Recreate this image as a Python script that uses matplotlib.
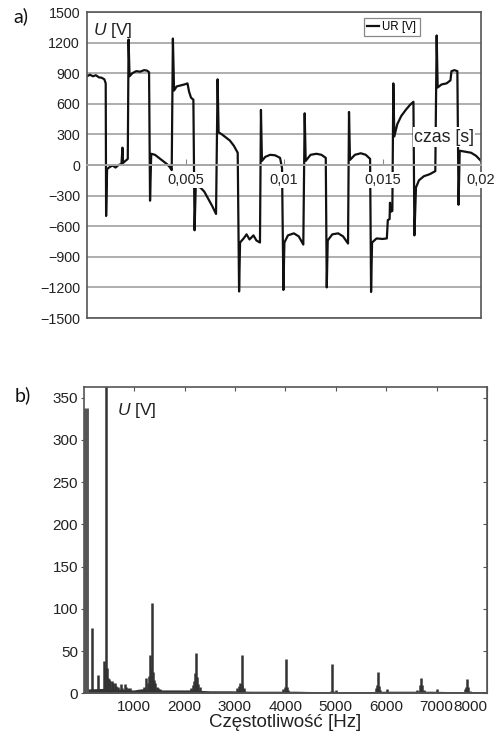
import matplotlib
matplotlib.use('Agg')
import matplotlib.pyplot as plt
import numpy as np

plt.rcParams['font.family'] = ['Liberation Sans', 'DejaVu Sans']
plt.rcParams['mathtext.fontset'] = 'custom'
plt.rcParams['mathtext.it'] = 'Liberation Sans:italic'
plt.rcParams['mathtext.rm'] = 'Liberation Sans'

# ---------------- panel a: time waveform ----------
wave_t_ms = [0.00, 0.15, 0.30, 0.45, 0.60, 0.75, 0.88, 0.95,
             0.97, 1.02, 1.15, 1.30, 1.45, 1.60, 1.75, 1.80, 1.83, 1.95, 2.07,
             2.11, 2.16, 2.30, 2.50, 2.70, 2.90, 3.05, 3.15,
             3.20, 3.26, 3.45, 3.65, 3.85, 4.05, 4.20, 4.30,
             4.36, 4.42, 4.55, 4.75, 4.95, 5.10, 5.18, 5.28, 5.40,
             5.46, 5.52, 5.75, 5.95, 6.15, 6.35, 6.55,
             6.63, 6.68, 6.85, 7.05, 7.25, 7.45, 7.65,
             7.72, 7.77, 7.95, 8.10, 8.25, 8.45, 8.60, 8.78,
             8.83, 8.88, 9.05, 9.30, 9.55, 9.80, 9.90,
             9.97, 10.02, 10.20, 10.50, 10.75, 10.98,
             11.05, 11.10, 11.35, 11.65, 11.90, 12.12,
             12.17, 12.22, 12.45, 12.75, 13.00, 13.25,
             13.30, 13.35, 13.60, 13.90, 14.15, 14.37,
             14.42, 14.47, 14.70, 15.00, 15.22, 15.27, 15.36, 15.38, 15.40, 15.50,
             15.55, 15.60, 15.75, 15.95, 16.20, 16.40, 16.57,
             16.62, 16.70, 16.85, 17.10, 17.40, 17.68,
             17.75, 17.80, 18.00, 18.25, 18.45, 18.50, 18.65, 18.80,
             18.86, 18.92, 19.20, 19.50, 19.75, 20.00]
wave_u = [870, 885, 870, 880, 860, 855, 840, 800,
          -500, -40, -20, -5, -25, 0, 10, 170, 20, 40, 60,
          1230, 870, 900, 920, 915, 930, 925, 910,
          -350, 110, 100, 70, 40, 10, -20, -50,
          1240, 730, 770, 780, 790, 800, 720, 660, 640,
          -640, -210, -220, -260, -330, -400, -480,
          840, 320, 300, 270, 240, 190, 120,
          -1240, -760, -720, -680, -730, -690, -740, -760,
          540, 40, 80, 100, 95, 70, -30,
          -1225, -760, -690, -670, -700, -780,
          507, 40, 100, 110, 100, 70,
          -1200, -740, -680, -670, -700, -770,
          520, 50, 100, 115, 100, 60,
          -1245, -760, -720, -725, -720, -540, -530, -370, -460, -450,
          800, 280, 400, 480, 545, 590, 620,
          -690, -220, -150, -110, -90, -60,
          1270, 760, 790, 800, 830, 920, 930, 920,
          -390, 140, 130, 120, 90, 40]

u_ticks = [-1500, -1200, -900, -600, -300, 0, 300, 600, 900, 1200, 1500]
u_tick_labels = ['\u22121500', '\u22121200', '\u2212900', '\u2212600', '\u2212300',
                 '0', '300', '600', '900', '1200', '1500']
t_ticks = [0.005, 0.01, 0.015, 0.02]
t_tick_labels = ['0,005', '0,01', '0,015', '0,02']

# ---------------- panel b: spectrum ---------------
fund_freq = [45]
fund_amp = [338]
spec_freq = [158, 289, 401, 441, 420, 460, 480, 500, 520, 553, 580, 619, 650, 680,
             731, 760, 816, 840, 870, 915,
             1150, 1200, 1245, 1280, 1300, 1324, 1340, 1363, 1380, 1400, 1420, 1450, 1480, 1520,
             2120, 2160, 2190, 2210, 2233, 2250, 2270, 2300,
             3040, 3080, 3110, 3134, 3150, 3180,
             3960, 3990, 4012, 4030, 4060,
             4900, 4921, 4940, 5000,
             5790, 5810, 5830, 5850, 5880, 6020,
             6620, 6670, 6700, 6720, 6760, 7000,
             7570, 7590, 7609, 7625, 7660]
spec_amp = [77, 22, 38.6, 400, 30, 30, 18, 17, 15, 14, 12, 11.8, 9, 7,
            10.6, 6, 10.6, 8, 6, 6.7,
            5, 7, 18, 12, 20, 45, 30, 106.6, 25, 16, 12, 8, 6, 5,
            6, 10, 15, 23.7, 48, 19, 11, 7,
            6, 9, 12, 45, 10, 6,
            5, 8, 40.6, 8, 4,
            3, 34.3, 3, 4,
            6, 9.8, 25, 9, 4, 5,
            4, 10, 18.5, 10, 4, 5,
            5, 8, 17.3, 8, 3]
floor_freq = [0, 500, 700, 900, 1000, 1100, 1200, 1500, 1700, 2000, 2100, 2500,
              2900, 3300, 3800, 4200, 4600, 5200, 5600, 6000, 6400, 6900, 7300, 7800, 8000]
floor_amp = [5, 6, 5, 4, 4, 5, 5, 4, 4, 4, 4, 3,
             3, 2.5, 2.5, 2.5, 2, 2, 2, 2.5, 2.5, 2.5, 2, 2, 2]
f_ticks = [1000, 2000, 3000, 4000, 5000, 6000, 7000, 8000]
f_tick_labels = ['1000', '2000', '3000', '4000', '5000', '6000', '7000', '8000']
a_ticks = [0, 50, 100, 150, 200, 250, 300, 350]

W, H = 496, 735
fig = plt.figure(figsize=(W / 100, H / 100), dpi=100)
fig.patch.set_facecolor('white')

# ---------------- panel a ----------------
ax1 = fig.add_axes([87 / W, 1 - 318 / H, 394 / W, 306 / H])
ax1.plot(np.array(wave_t_ms) * 1e-3, wave_u, color='#111111', lw=1.6, zorder=2,
         label='UR [V]')
ax1.set_xlim(0, 0.02)
ax1.set_ylim(-1500, 1500)
ax1.set_yticks(u_ticks, labels=u_tick_labels)
ax1.grid(axis='y', color='#a8a8a8', lw=1.3)
ax1.set_axisbelow(True)
ax1.tick_params(axis='y', length=0, pad=5, labelsize=10.3, labelcolor='#222222')
ax1.tick_params(axis='x', bottom=False, labelbottom=False)
for s in ax1.spines.values():
    s.set_color('#555555')
    s.set_linewidth(1.2)

secax = ax1.secondary_xaxis(0.4999999)
secax.set_xticks(t_ticks, labels=t_tick_labels)
secax.tick_params(direction='in', length=4, color='#888888', labelsize=10.5, pad=6,
                  labelcolor='#222222')
for s in secax.spines.values():
    s.set_color('#a8a8a8')
    s.set_linewidth(1.3)
for lbl in secax.get_xticklabels():
    lbl.set_bbox(dict(facecolor='white', edgecolor='none', pad=0.6))
secax.set_zorder(3)

leg = ax1.legend(loc='upper left', bbox_to_anchor=(0.703, 0.982), fontsize=8.3,
                 handlelength=1.0, handletextpad=0.3, borderpad=0.3,
                 frameon=True, fancybox=False, edgecolor='#888888', framealpha=1,
                 borderaxespad=0)
leg.get_frame().set_linewidth(0.9)
leg.set_zorder(6)

ax1.text(0.015, 0.94, r'$U$ [V]', transform=ax1.transAxes, fontsize=12.5,
         va='center', ha='left', color='#222222', zorder=6)
ax1.text(0.01812, 274, 'czas [s]', ha='center', va='center', fontsize=12.8,
         color='#222222', bbox=dict(facecolor='white', edgecolor='none', pad=1),
         zorder=5)

# ---------------- panel b ----------------
ax2 = fig.add_axes([83.7 / W, 1 - 693.3 / H, 403.3 / W, 306.6 / H])
ax2.fill_between(floor_freq, 0, floor_amp, color='#333333', lw=0)
ax2.vlines(spec_freq, 0, spec_amp, color='#333333', lw=1.8)
ax2.vlines(fund_freq, 0, fund_amp, color='#555555', lw=3.5)
ax2.set_xlim(0, 8000)
ax2.set_ylim(0, 363)
ax2.set_xticks(f_ticks, labels=f_tick_labels)
ax2.set_yticks(a_ticks)
ax2.get_xticklabels()[-1].set_horizontalalignment('right')
ax2.tick_params(axis='x', bottom=False, top=True, labelbottom=True, direction='in',
                length=3, pad=5, labelsize=11, labelcolor='#222222', color='#555555')
ax2.tick_params(axis='y', direction='out', length=2, pad=2, labelsize=11,
                labelcolor='#222222', color='#555555')
sec_r = ax2.secondary_yaxis('right')
sec_r.set_yticks(a_ticks)
sec_r.tick_params(direction='in', length=3, labelright=False, color='#555555')
for s in sec_r.spines.values():
    s.set_color('#555555')
for s in ax2.spines.values():
    s.set_color('#555555')
    s.set_linewidth(1.2)
ax2.set_xlabel('Częstotliwość [Hz]', fontsize=13.5, labelpad=0, color='#222222')
ax2.text(0.083, 0.921, r'$U$ [V]', transform=ax2.transAxes, fontsize=12.5,
         va='center', ha='left', color='#222222')

fig.text(13 / W, 1 - 16 / H, 'a)', family=['Lato', 'DejaVu Sans'], fontsize=14,
         va='center', ha='left', color='#111111')
fig.text(15 / W, 1 - 395 / H, 'b)', family=['Lato', 'DejaVu Sans'], fontsize=14,
         va='center', ha='left', color='#111111')

fig.savefig('out.png', dpi=100, facecolor='white')
